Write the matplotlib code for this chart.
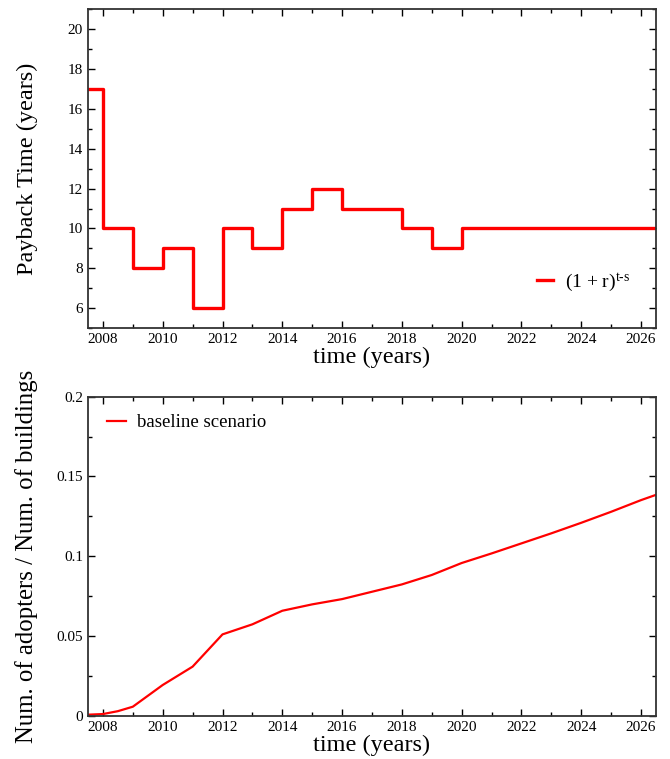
import numpy as np
import matplotlib
matplotlib.use("Agg")
import matplotlib.pyplot as plt
from matplotlib.ticker import MultipleLocator

plt.rcParams['font.family'] = ['Liberation Serif', 'DejaVu Serif']
plt.rcParams['mathtext.fontset'] = 'custom'
plt.rcParams['mathtext.rm'] = 'Liberation Serif'
plt.rcParams['mathtext.it'] = 'Liberation Serif'

# payback time, value holds from year until next year
payback_years = [2007, 2008, 2009, 2010, 2011, 2012, 2013, 2014, 2015, 2016, 2017,
                 2018, 2019, 2020, 2021, 2022, 2023, 2024, 2025, 2026, 2027]
payback_time = [17, 10, 8, 9, 6, 10, 9, 11, 12, 11, 11,
                10, 9, 10, 10, 10, 10, 10, 10, 10, 10]

# fraction of adopters, baseline scenario
adopt_years = [2007.5, 2008, 2008.5, 2009, 2010, 2011, 2012, 2013, 2014, 2015, 2016,
               2017, 2018, 2019, 2020, 2021, 2022, 2023, 2024, 2025, 2026, 2026.5]
adopt_frac = [0.0008, 0.0012, 0.003, 0.0058, 0.0194, 0.0309, 0.0511, 0.0574, 0.0659,
              0.0699, 0.0732, 0.0778, 0.0824, 0.0883, 0.0958, 0.1018, 0.1081, 0.1144,
              0.121, 0.1279, 0.1352, 0.1385]


def style_axes(ax):
    ax.set_xlim(2007.5, 2026.5)
    ax.xaxis.set_major_locator(MultipleLocator(2))
    ax.xaxis.set_minor_locator(MultipleLocator(1))
    ax.tick_params(which='both', direction='in', top=True, right=True,
                   labelsize=11, width=1.0, colors='black')
    ax.tick_params(which='major', length=5)
    ax.tick_params(which='minor', length=3)
    for s in ax.spines.values():
        s.set_linewidth(1.3)
        s.set_color('#333333')
    ax.set_xlabel('time (years)', fontsize=17.5, labelpad=1)
    ax.yaxis.set_label_coords(-0.088, 0.5)


fig = plt.figure(figsize=(6.7, 7.59), dpi=100)

ax1 = fig.add_axes([0.1313, 0.5679, 0.8478, 0.4196])
ax1.step(payback_years, payback_time, where='post', color='red', lw=2.4,
         label=r'(1 + r)$^{\mathrm{t\text{-}s}}$')
style_axes(ax1)
ax1.set_ylim(5, 21)
ax1.yaxis.set_major_locator(MultipleLocator(2))
ax1.yaxis.set_minor_locator(MultipleLocator(1))
ax1.set_ylabel('Payback Time (years)', fontsize=17.5)
ax1.legend(loc='center left', bbox_to_anchor=(0.79, 0.143), frameon=False,
           fontsize=14, handlelength=0.85, handletextpad=0.6,
           borderpad=0, borderaxespad=0)

ax2 = fig.add_axes([0.1313, 0.0567, 0.8478, 0.4207])
ax2.plot(adopt_years, adopt_frac, color='red', lw=1.6, label='baseline scenario')
style_axes(ax2)
ax2.set_ylim(0, 0.2)
ax2.yaxis.set_major_locator(MultipleLocator(0.05))
ax2.yaxis.set_minor_locator(MultipleLocator(0.025))
ax2.set_yticks([0, 0.05, 0.1, 0.15, 0.2])
ax2.set_yticklabels(['0', '0.05', '0.1', '0.15', '0.2'])
ax2.set_ylabel('Num. of adopters / Num. of buildings', fontsize=17.8)
ax2.legend(loc='center left', bbox_to_anchor=(0.0335, 0.918), frameon=False,
           fontsize=13.5, handlelength=1.0, handletextpad=0.6,
           borderpad=0, borderaxespad=0)

fig.savefig('out.png', dpi=100)
